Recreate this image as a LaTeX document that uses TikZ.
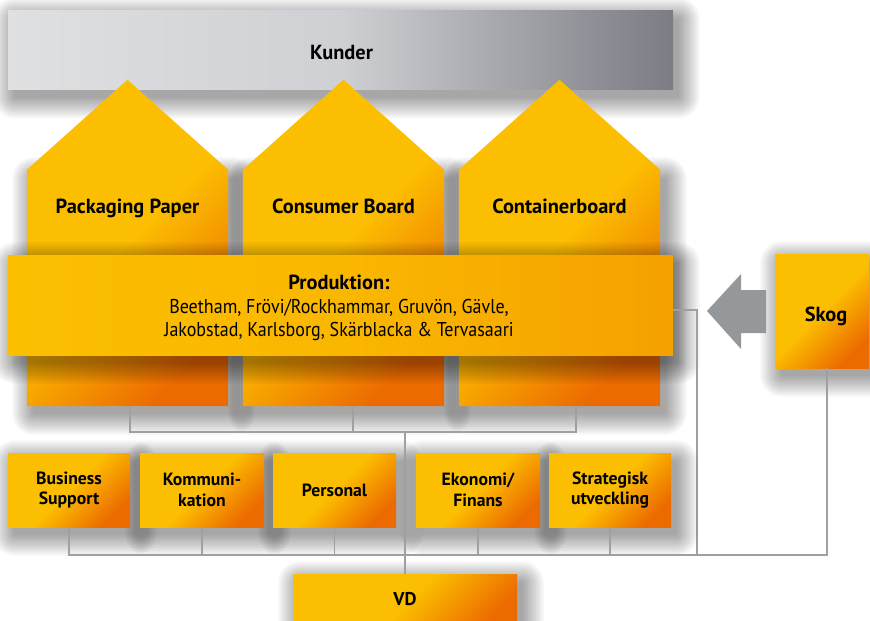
\documentclass[tikz,border=0pt]{standalone}
\usepackage{fontspec}
\setmainfont{PT Sans}
\newfontfamily\prodfont{PT Sans}[FakeStretch=0.9]
\usetikzlibrary{calc}
\definecolor{yel}{HTML}{FCBE00}
\definecolor{ora}{HTML}{EC6B00}
\definecolor{prodL}{HTML}{FCBF00}
\definecolor{prodM}{HTML}{FAB700}
\definecolor{prodR}{HTML}{F5A100}
\definecolor{kL}{HTML}{DFE0E2}
\definecolor{kM}{HTML}{CFD0D3}
\definecolor{kR}{HTML}{7B7C84}
\definecolor{linegray}{HTML}{A0A0A2}
\definecolor{arrowgray}{HTML}{95989B}
% soft shadow: centre x, centre y, width, height
\newcommand\softsh[4]{%
  \foreach \k in {0,...,13}{%
    \pgfmathsetmacro\s{\k*1.6}%
    \pgfmathsetmacro\r{\s+1}%
    \fill[black, opacity=0.026, rounded corners=\r pt]
      ({#1-#3/2+6-\s},{#2-#4/2+8-\s}) rectangle ({#1+#3/2+6+\s},{#2+#4/2+8+\s});
  }}
\begin{document}
\begin{tikzpicture}[x=1pt,y=-1pt,
  orangefill/.style={top color=yel, bottom color=ora, middle color=yel, shading angle=45},
  box/.style={rectangle, inner sep=0pt, align=center, orangefill,
    font=\fontsize{17.7}{20.7}\selectfont\bfseries},
  hbody/.style={rectangle, inner sep=0pt, minimum width=201pt, minimum height=236pt},
  hshape/.style={orangefill},
  hlabel/.style={inner sep=0pt, anchor=base, font=\fontsize{20.4}{24}\selectfont\bfseries},
  kbar/.style={rectangle, inner sep=0pt, left color=kL, right color=kR, middle color=kM},
  prodbar/.style={rectangle, inner sep=0pt, left color=prodL, right color=prodR, middle color=prodM},
  conn/.style={draw=linegray, line width=1.5pt}
]
\fill[white] (0,0) rectangle (870,621);
\useasboundingbox (0,0) rectangle (870,621);

% Kunder bar
\softsh{340.5}{50}{665}{79}
\node[kbar, minimum width=665pt, minimum height=79pt] (kunder) at (340.5,50) {};
\node[hlabel] (kl) at (341.5,59) {Kunder};

% houses
\softsh{127.5}{288}{201}{236}
\softsh{343.5}{288}{201}{236}
\softsh{559.5}{288}{201}{236}
\node[hbody] (h1) at (127.5,288) {};
\node[hbody] (h2) at (343.5,288) {};
\node[hbody] (h3) at (559.5,288) {};
\foreach \h in {h1,h2,h3}{
  \path[hshape] (\h.south west) -- (\h.north west) -- ($(\h.north)+(0,-90)$) -- (\h.north east) -- (\h.south east) -- cycle;
}
\node[hlabel] (l1) at (127.5,213) {Packaging Paper};
\node[hlabel] (l2) at (343.5,213) {Consumer Board};
\node[hlabel] (l3) at (559.5,213) {Containerboard};

\coordinate (hbus) at (0,432);
\coordinate (bus) at (0,555);
\coordinate (pj) at (697,555);

% production bar
\softsh{340.5}{305}{665}{100}
\node[prodbar, minimum width=665pt, minimum height=100pt] (prod) at (340.5,305) {};
\node[inner sep=0pt, align=center, font=\fontsize{20}{23.5}\selectfont] (prodl) at (339,308) {%
  {\bfseries\fontsize{20.4}{23.5}\selectfont Produktion:}\\
  {\prodfont Beetham, Frövi/Rockhammar, Gruvön, Gävle,}\\
  {\prodfont Jakobstad, Karlsborg, Skärblacka \& Tervasaari}};

% Skog
\softsh{822}{311}{94}{114}
\node[box, minimum width=94pt, minimum height=114pt] (skog) at (822,311) {};
\node[hlabel] (skl) at (826,321) {Skog};

% arrow Skog -> Produktion
\fill[arrowgray] (707,311) -- (741,274) -- (741,290) -- (766,290) -- (766,333) -- (741,333) -- (741,349) -- cycle;

% connectors
\draw[conn] ([xshift=2.5pt]h1.south) -- ([xshift=2.5pt]h1.south |- hbus) -- ([xshift=16.5pt]h3.south |- hbus) -- ([xshift=16.5pt]h3.south);
\draw[conn] ([xshift=9.5pt]h2.south) -- ([xshift=9.5pt]h2.south |- hbus);
\draw[conn] ($(prod.east)+(0,5)$) -| (pj);

% bottom boxes
\softsh{69}{490}{122}{74}
\softsh{202}{490}{124}{74}
\softsh{334.5}{490}{123}{74}
\softsh{478}{490}{124}{74}
\softsh{610}{490}{122}{74}
\node[box, minimum width=122pt, minimum height=74pt] (bs) at (69,490) {Business\\Support};
\node[box, minimum width=124pt, minimum height=74pt] (km) at (202,490) {Kommuni-\\kation};
\node[box, minimum width=123pt, minimum height=74pt] (pe) at (334.5,490) {Personal};
\node[box, minimum width=124pt, minimum height=74pt] (ek) at (478,490) {Ekonomi/\\Finans};
\node[box, minimum width=122pt, minimum height=74pt] (st) at (610,490) {Strategisk\\utveckling};

% VD
\softsh{405}{604}{224}{60}
\node[box, minimum width=224pt, minimum height=60pt] (vd) at (405,604) {};
\node[inner sep=0pt, anchor=base, font=\fontsize{18.5}{20}\selectfont\bfseries] (vdl) at (405,605) {VD};

\draw[conn] (vd.north |- hbus) -- (vd.north);
\draw[conn] (bs.south) -- (bs.south |- bus) -| ([xshift=5pt]skog.south);
\foreach \b in {km,pe,ek,st}{\draw[conn] (\b.south) -- (\b.south |- bus);}
\end{tikzpicture}
\end{document}
